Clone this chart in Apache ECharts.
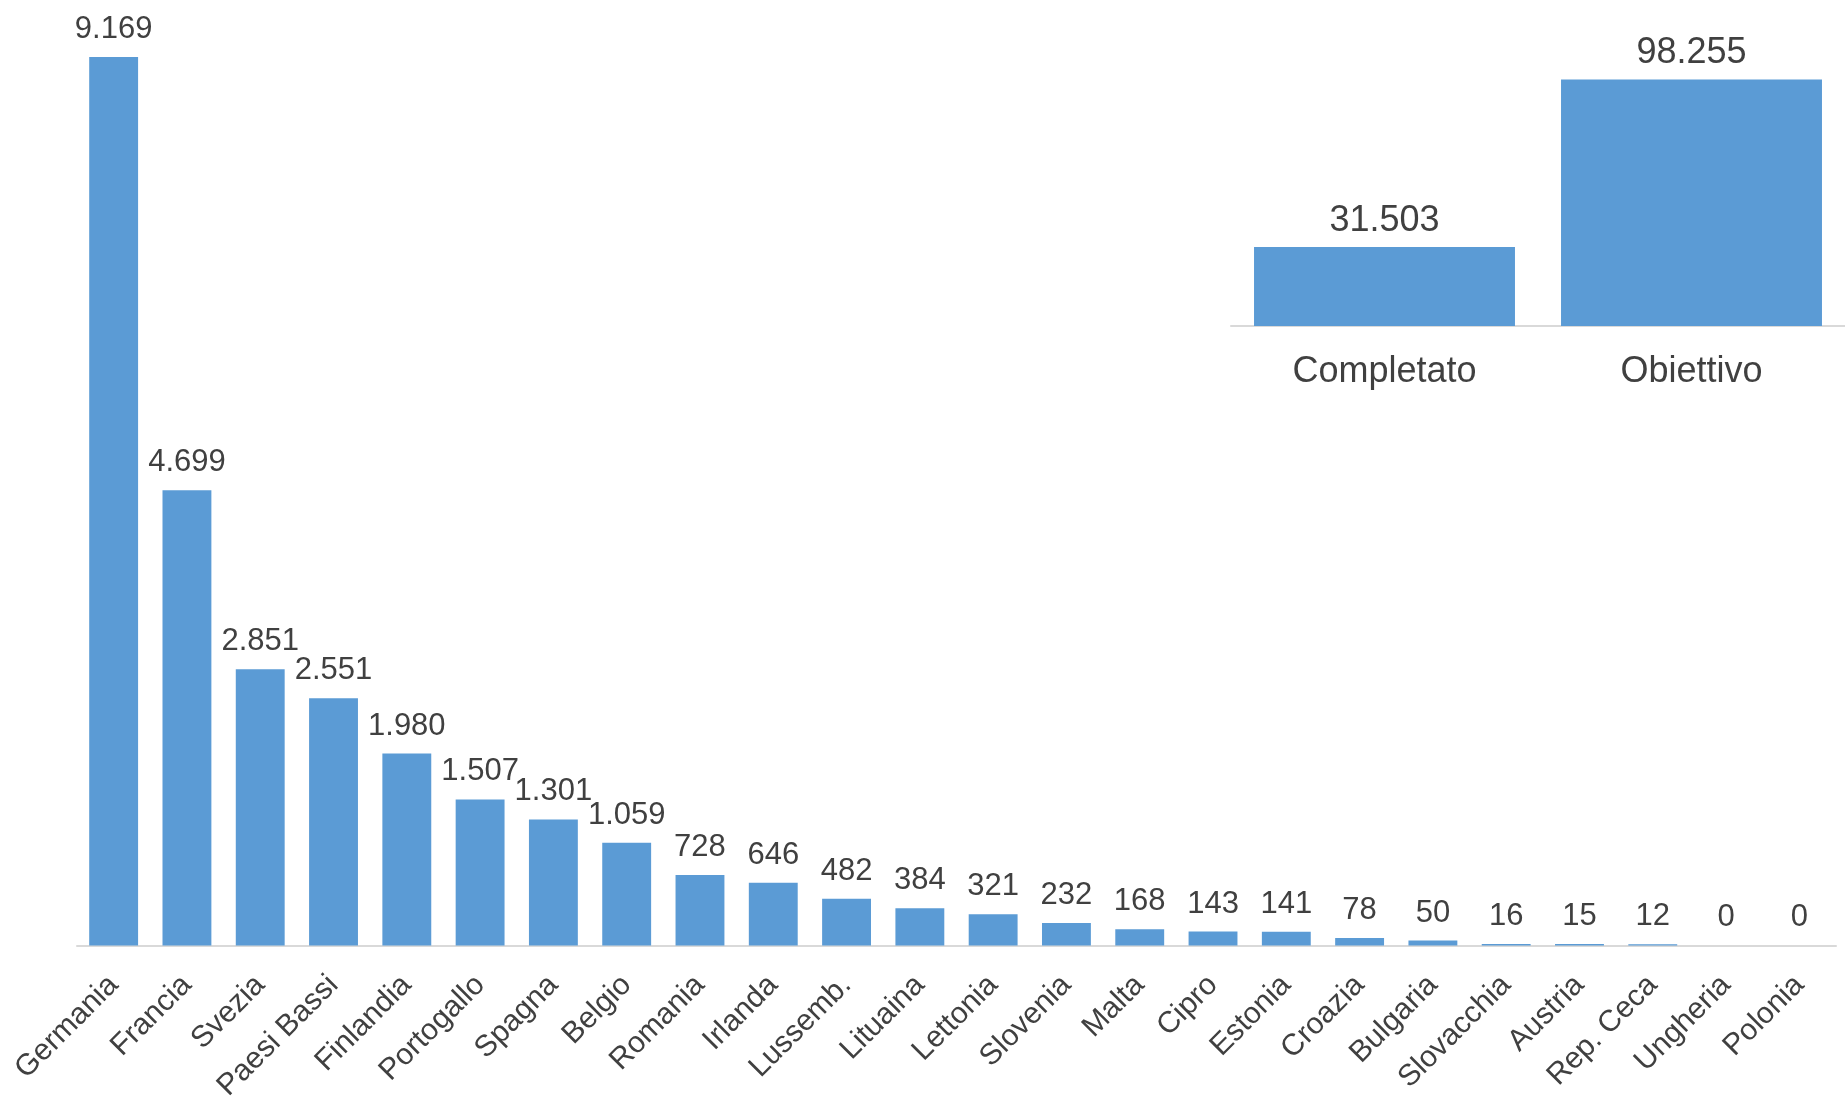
<!DOCTYPE html>
<html>
<head>
<meta charset="utf-8">
<script src="https://cdn.jsdelivr.net/npm/echarts@6/dist/echarts.min.js"></script>
<style>
html,body{margin:0;padding:0;background:#fff;}
#chart{width:1845px;height:1104px;}
</style>
</head>
<body>
<div id="chart"></div>
<script>
const countries = ['Germania','Francia','Svezia','Paesi Bassi','Finlandia','Portogallo','Spagna','Belgio','Romania','Irlanda','Lussemb.','Lituaina','Lettonia','Slovenia','Malta','Cipro','Estonia','Croazia','Bulgaria','Slovacchia','Austria','Rep. Ceca','Ungheria','Polonia'];
const countryValues = [9169,4699,2851,2551,1980,1507,1301,1059,728,646,482,384,321,232,168,143,141,78,50,16,15,12,0,0];
const summaryCategories = ['Completato','Obiettivo'];
const summaryValues = [31503,98255];

function fmt(v){
  return String(v).replace(/\B(?=(\d{3})+(?!\d))/g,'.');
}
const FONT = '"Liberation Sans", Arial, sans-serif';
const BLUE = '#5B9BD5';
const TXT = '#404040';

const chart = echarts.init(document.getElementById('chart'));
chart.setOption({
  animation:false,
  backgroundColor:'#ffffff',
  grid:[
    {left:77, width:1759, top:25, bottom:157, containLabel:false},
    {left:1231, width:631, top:75, bottom:778, containLabel:false}
  ],
  xAxis:[
    {type:'category', gridIndex:0, data:countries,
     axisLine:{show:true, lineStyle:{color:'#d9d9d9', width:2}},
     axisTick:{show:false},
     axisLabel:{rotate:45, interval:0, margin:35, fontSize:30, color:TXT, fontFamily:FONT}
    },
    {type:'category', gridIndex:1, data:summaryCategories,
     axisLine:{show:true, lineStyle:{color:'#d9d9d9', width:2}},
     axisTick:{show:false},
     axisLabel:{interval:0, margin:28, fontSize:36, color:TXT, fontFamily:FONT}
    }
  ],
  yAxis:[
    {type:'value', gridIndex:0, min:0, max:9500, show:false, splitLine:{show:false}},
    {type:'value', gridIndex:1, min:0, max:100000, show:false, splitLine:{show:false}}
  ],
  series:[
    {type:'bar', xAxisIndex:0, yAxisIndex:0, data:countryValues,
     barCategoryGap:'33.3%',
     itemStyle:{color:BLUE},
     label:{show:true, position:'top', distance:12, fontSize:31, color:TXT, fontFamily:FONT, formatter:p=>fmt(p.value)}
    },
    {type:'bar', xAxisIndex:1, yAxisIndex:1, data:summaryValues,
     barCategoryGap:'15%',
     itemStyle:{color:BLUE},
     label:{show:true, position:'top', distance:8, fontSize:36, color:TXT, fontFamily:FONT, formatter:p=>fmt(p.value)}
    }
  ]
});
</script>
</body>
</html>
